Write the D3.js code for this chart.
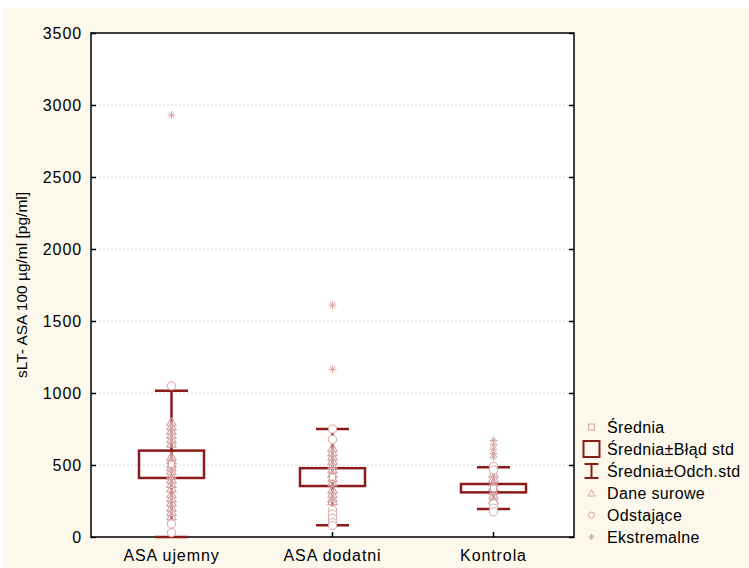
<!DOCTYPE html>
<html>
<head>
<meta charset="utf-8">
<script src="https://cdn.jsdelivr.net/npm/d3@7"></script>
<style>
  html, body { margin: 0; padding: 0; background: #ffffff; }
  svg { display: block; font-family: "Liberation Sans", Arial, sans-serif; }
</style>
</head>
<body>
<svg id="chart" width="749" height="568"></svg>
<script>
// Groups and summary statistics (mean, standard error, standard deviation)
const categories = ["ASA ujemny", "ASA dodatni", "Kontrola"];
const means  = [505, 416, 339];
const stdErr = [95, 62, 29];
const stdDev = [511, 334, 145];

// Individual observations per group
const rawData = [
  [800, 770, 740, 710, 680, 650, 560, 535, 510, 485, 460, 430, 400, 370, 340, 300, 270, 240, 205, 175, 145],
  [620, 590, 560, 530, 500, 470, 440, 410, 380, 330, 300, 270, 250],
  [440, 410, 380, 350, 320, 290, 260]
];
const outliers = [
  [1050, 90, 30],
  [750, 678, 188, 160, 130, 100, 80],
  [490, 465, 230, 200, 175]
];
const extremes = [
  [2930],
  [1610, 1165],
  [670, 640, 610, 580, 555]
];

const yTicks = [0, 500, 1000, 1500, 2000, 2500, 3000, 3500];
const legendItems = ["Średnia", "Średnia±Błąd std", "Średnia±Odch.std", "Dane surowe", "Odstające", "Ekstremalne"];

const dark = "#8b1a1a";
const light = "#d9a3a3";
const fontSize = 16;
const spacing = "0.9px";

const svg = d3.select("#chart");

// Page background
svg.append("rect").attr("x", 3).attr("y", 8).attr("width", 746).attr("height", 560).attr("fill", "#fdf8ec");

const plot = { left: 91, right: 574, top: 33, bottom: 537 };

const x = d3.scaleBand().domain(categories).range([plot.left, plot.right]).padding(0);
const y = d3.scaleLinear().domain([0, 3500]).range([plot.bottom, plot.top]).clamp(true);
const cx = c => x(c) + x.bandwidth() / 2;

// Plot area
svg.append("rect")
  .attr("x", plot.left).attr("y", plot.top)
  .attr("width", plot.right - plot.left).attr("height", plot.bottom - plot.top)
  .attr("fill", "#ffffff");

// Grid lines
svg.append("g").selectAll("line").data(yTicks.filter(t => t > 0 && t < 3500)).join("line")
  .attr("x1", plot.left).attr("x2", plot.right)
  .attr("y1", d => y(d)).attr("y2", d => y(d))
  .attr("stroke", "#d8d8d8").attr("stroke-width", 1).attr("stroke-dasharray", "2,2");

// Axes
const yAxisL = d3.axisLeft(y).tickValues(yTicks).tickSize(-5).tickPadding(9).tickFormat(d3.format("d"));
const yAxisR = d3.axisRight(y).tickValues(yTicks).tickSize(-5).tickFormat("");
const xAxisB = d3.axisBottom(x).tickSize(-5).tickPadding(13);

function styleAxis(g) {
  g.select(".domain").remove();
  g.selectAll(".tick line").attr("stroke", "#000").attr("stroke-width", 1.5);
  g.selectAll(".tick text").attr("fill", "#000").attr("font-size", fontSize).attr("letter-spacing", spacing);
}
svg.append("g").attr("transform", `translate(${plot.left},0)`).call(yAxisL).call(styleAxis);
svg.append("g").attr("transform", `translate(${plot.right},0)`).call(yAxisR).call(styleAxis);
svg.append("g").attr("transform", `translate(0,${plot.bottom})`).call(xAxisB).call(styleAxis);

// Frame
svg.append("rect")
  .attr("x", plot.left).attr("y", plot.top)
  .attr("width", plot.right - plot.left).attr("height", plot.bottom - plot.top)
  .attr("fill", "none").attr("stroke", "#000").attr("stroke-width", 1.5);

// Y axis title
svg.append("text")
  .attr("transform", `translate(27,${(plot.top + plot.bottom) / 2}) rotate(-90)`)
  .attr("text-anchor", "middle").attr("font-size", 15.5).attr("fill", "#000")
  .text("sLT- ASA 100 µg/ml [pg/ml]");

// Marker symbols
const triPath = d3.symbol().type(d3.symbolTriangle).size(38)();
const circlePath = d3.symbol().type(d3.symbolCircle).size(55)();
// Eight-spoke star used for extreme values
function starPath(r) {
  const d = r * Math.SQRT1_2;
  return `M${-r},0H${r}M0,${-r}V${r}M${-d},${-d}L${d},${d}M${-d},${d}L${d},${-d}`;
}

const groups = svg.append("g").selectAll("g").data(categories).join("g");

// Raw data (triangles)
groups.each(function(c, i) {
  const g = d3.select(this);
  g.selectAll(".raw").data(rawData[i]).join("path").attr("class", "raw")
    .attr("d", triPath)
    .attr("transform", d => `translate(${cx(c)},${y(d) + 1})`)
    .attr("fill", "none").attr("stroke", light).attr("stroke-width", 1);
});

// Standard deviation whiskers
const capHalf = 16.5;
groups.append("line")
  .attr("x1", cx).attr("x2", cx)
  .attr("y1", (c, i) => y(means[i] + stdDev[i]))
  .attr("y2", (c, i) => y(means[i] - stdDev[i]))
  .attr("stroke", dark).attr("stroke-width", 2.5);
groups.append("line")
  .attr("x1", c => cx(c) - capHalf).attr("x2", c => cx(c) + capHalf)
  .attr("y1", (c, i) => y(means[i] + stdDev[i])).attr("y2", (c, i) => y(means[i] + stdDev[i]))
  .attr("stroke", dark).attr("stroke-width", 2.5);
groups.append("line")
  .attr("x1", c => cx(c) - capHalf).attr("x2", c => cx(c) + capHalf)
  .attr("y1", (c, i) => y(means[i] - stdDev[i])).attr("y2", (c, i) => y(means[i] - stdDev[i]))
  .attr("stroke", dark).attr("stroke-width", 2.5);

// Standard error boxes
const boxHalf = 32.5;
groups.append("rect")
  .attr("x", c => cx(c) - boxHalf).attr("width", boxHalf * 2)
  .attr("y", (c, i) => y(means[i] + stdErr[i]))
  .attr("height", (c, i) => y(means[i] - stdErr[i]) - y(means[i] + stdErr[i]))
  .attr("fill", "none").attr("stroke", dark).attr("stroke-width", 2.5);

// Points drawn over the boxes and whiskers
groups.each(function(c, i) {
  const g = d3.select(this);
  g.selectAll(".rawTop").data(rawData[i]).join("path")
    .attr("d", triPath)
    .attr("transform", d => `translate(${cx(c)},${y(d) + 1})`)
    .attr("fill", "#fff").attr("fill-opacity", 0.35).attr("stroke", light).attr("stroke-width", 1);
  // Mean marker
  g.append("rect")
    .attr("x", cx(c) - 3).attr("y", y(means[i]) - 3).attr("width", 6).attr("height", 6)
    .attr("fill", "#fff").attr("stroke", light).attr("stroke-width", 1);
  // Outliers
  g.selectAll(".out").data(outliers[i]).join("path").attr("class", "out")
    .attr("d", circlePath)
    .attr("transform", d => `translate(${cx(c)},${y(d)})`)
    .attr("fill", "#fff").attr("stroke", light).attr("stroke-width", 1);
  // Extremes
  g.selectAll(".ext").data(extremes[i]).join("path").attr("class", "ext")
    .attr("d", starPath(4))
    .attr("transform", d => `translate(${cx(c)},${y(d)})`)
    .attr("fill", "none").attr("stroke", light).attr("stroke-width", 1);
});

// Legend
const legend = svg.append("g");
const lx = 591.5, ly0 = 427, dy = 22;
const rows = legend.selectAll("g").data(legendItems).join("g")
  .attr("transform", (d, i) => `translate(0,${ly0 + i * dy})`);
rows.append("text").attr("x", 607).attr("y", 5.5)
  .attr("font-size", fontSize).attr("letter-spacing", "0.35px").attr("fill", "#000").text(d => d);

rows.each(function(d, i) {
  const g = d3.select(this);
  if (i === 0) {
    g.append("rect").attr("x", lx - 3).attr("y", -3).attr("width", 6).attr("height", 6)
      .attr("fill", "none").attr("stroke", light);
  } else if (i === 1) {
    g.append("rect").attr("x", lx - 8).attr("y", -8).attr("width", 16).attr("height", 16)
      .attr("fill", "none").attr("stroke", dark).attr("stroke-width", 2);
  } else if (i === 2) {
    g.append("line").attr("x1", lx).attr("x2", lx).attr("y1", -7).attr("y2", 7).attr("stroke", dark).attr("stroke-width", 2);
    g.append("line").attr("x1", lx - 7).attr("x2", lx + 7).attr("y1", -7).attr("y2", -7).attr("stroke", dark).attr("stroke-width", 2);
    g.append("line").attr("x1", lx - 7).attr("x2", lx + 7).attr("y1", 7).attr("y2", 7).attr("stroke", dark).attr("stroke-width", 2);
  } else if (i === 3) {
    g.append("path").attr("d", d3.symbol().type(d3.symbolTriangle).size(22)())
      .attr("transform", `translate(${lx},1)`).attr("fill", "none").attr("stroke", light);
  } else if (i === 4) {
    g.append("circle").attr("cx", lx).attr("cy", 0).attr("r", 3)
      .attr("fill", "none").attr("stroke", light);
  } else {
    g.append("path").attr("d", starPath(3))
      .attr("transform", `translate(${lx},0)`).attr("fill", "none").attr("stroke", light);
  }
});
</script>
</body>
</html>
